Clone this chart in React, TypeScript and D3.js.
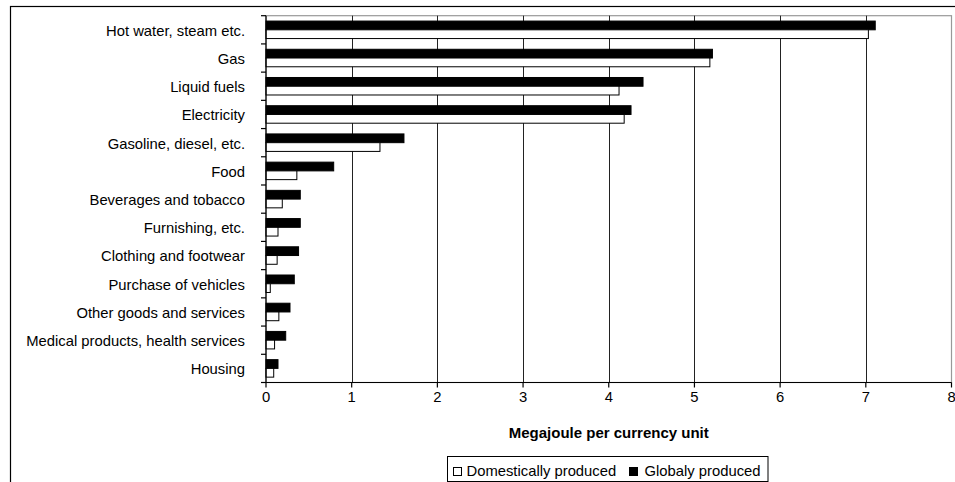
import React, { useEffect, useRef } from "react";
import * as d3 from "d3";

const categories = [
  "Hot water, steam etc.",
  "Gas",
  "Liquid fuels",
  "Electricity",
  "Gasoline, diesel, etc.",
  "Food",
  "Beverages and tobacco",
  "Furnishing, etc.",
  "Clothing and footwear",
  "Purchase of vehicles",
  "Other goods and services",
  "Medical products, health services",
  "Housing",
];
const globalValues = [7.11, 5.21, 4.4, 4.26, 1.61, 0.79, 0.4, 0.4, 0.38, 0.33, 0.28, 0.23, 0.14];
const domesticValues = [7.03, 5.18, 4.12, 4.18, 1.33, 0.36, 0.19, 0.14, 0.13, 0.05, 0.15, 0.1, 0.09];
const xTicks = [0, 1, 2, 3, 4, 5, 6, 7, 8];
const seriesNames = ["Domestically produced", "Globaly produced"];
const axisTitle = "Megajoule per currency unit";

const W = 955;
const H = 482;
const FONT = "Arial, 'Liberation Sans', sans-serif";

export default function App() {
  const ref = useRef<SVGSVGElement | null>(null);

  useEffect(() => {
    const svg = d3.select(ref.current);
    svg.selectAll("*").remove();

    const left = 266, right = 951.5, top = 15.7, bottom = 382.5;
    const x = d3.scaleLinear().domain([0, 8]).range([left, right]);
    const y = d3.scaleBand<string>().domain(categories).range([top, bottom]);
    const bw = y.bandwidth();
    const barH = bw * 0.31;
    const offset = (bw - 2 * barH) / 2;

    // outer frame
    svg.append("rect")
      .attr("x", 10.5).attr("y", 6.5)
      .attr("width", 980).attr("height", 500)
      .attr("fill", "white").attr("stroke", "#000").attr("stroke-width", 1.2);

    // plot border
    svg.append("rect")
      .attr("x", left).attr("y", top)
      .attr("width", right - left).attr("height", bottom - top)
      .attr("fill", "white").attr("stroke", "#999").attr("stroke-width", 1.2);

    // gridlines
    svg.append("g").selectAll("line")
      .data(xTicks.filter((t) => t > 0 && t < 8))
      .join("line")
      .attr("x1", (d) => Math.round(x(d)) + 0.5).attr("x2", (d) => Math.round(x(d)) + 0.5)
      .attr("y1", top).attr("y2", bottom)
      .attr("stroke", "#222").attr("stroke-width", 1);

    // bars
    const g = svg.append("g");
    categories.forEach((c, i) => {
      const y0 = (y(c) as number) + offset;
      g.append("rect")
        .attr("x", x(0)).attr("y", y0)
        .attr("width", x(globalValues[i]) - x(0)).attr("height", barH)
        .attr("fill", "#000").attr("stroke", "#000").attr("stroke-width", 1);
      g.append("rect")
        .attr("x", x(0)).attr("y", y0 + barH)
        .attr("width", x(domesticValues[i]) - x(0)).attr("height", barH)
        .attr("fill", "#fff").attr("stroke", "#000").attr("stroke-width", 1);
    });

    // y axis
    svg.append("line")
      .attr("x1", left).attr("x2", left).attr("y1", top).attr("y2", bottom + 0.5)
      .attr("stroke", "#000").attr("stroke-width", 1.2);
    const yBoundaries = categories.map((c) => y(c) as number).concat([bottom]);
    svg.append("g").selectAll("line")
      .data(yBoundaries)
      .join("line")
      .attr("x1", left - 5).attr("x2", left)
      .attr("y1", (d) => d).attr("y2", (d) => d)
      .attr("stroke", "#000").attr("stroke-width", 1.2);
    svg.append("g").selectAll("text")
      .data(categories)
      .join("text")
      .attr("x", 245)
      .attr("y", (d) => (y(d) as number) + bw / 2 + 2)
      .attr("text-anchor", "end")
      .attr("dominant-baseline", "middle")
      .attr("font-family", FONT).attr("font-size", 14.8).attr("fill", "#000")
      .text((d) => d);

    // x axis
    svg.append("line")
      .attr("x1", left - 5).attr("x2", right).attr("y1", bottom).attr("y2", bottom)
      .attr("stroke", "#000").attr("stroke-width", 1.2);
    svg.append("g").selectAll("line")
      .data(xTicks)
      .join("line")
      .attr("x1", (d) => x(d)).attr("x2", (d) => x(d))
      .attr("y1", bottom).attr("y2", bottom + 5)
      .attr("stroke", "#000").attr("stroke-width", 1.2);
    svg.append("g").selectAll("text")
      .data(xTicks)
      .join("text")
      .attr("x", (d) => x(d)).attr("y", 401.5)
      .attr("text-anchor", "middle")
      .attr("font-family", FONT).attr("font-size", 14.8).attr("fill", "#000")
      .text((d) => String(d));

    svg.append("text")
      .attr("x", (left + right) / 2).attr("y", 437.5)
      .attr("text-anchor", "middle")
      .attr("font-family", FONT).attr("font-size", 15).attr("font-weight", "bold")
      .attr("fill", "#000")
      .text(axisTitle);

    // legend
    const lg = svg.append("g");
    lg.append("rect")
      .attr("x", 447.5).attr("y", 456.5).attr("width", 320.5).attr("height", 25)
      .attr("fill", "#fff").attr("stroke", "#000").attr("stroke-width", 1);
    const items = [
      { name: seriesNames[0], fill: "#fff", sx: 453.5, tx: 466.5 },
      { name: seriesNames[1], fill: "#000", sx: 629.5, tx: 644.5 },
    ];
    items.forEach((it) => {
      lg.append("rect")
        .attr("x", it.sx).attr("y", 467.5).attr("width", 8).attr("height", 8)
        .attr("fill", it.fill).attr("stroke", "#000").attr("stroke-width", 1);
      lg.append("text")
        .attr("x", it.tx).attr("y", 476)
        .attr("font-family", FONT).attr("font-size", 14.8).attr("fill", "#000")
        .text(it.name);
    });
  }, []);

  return (
    <svg
      ref={ref}
      width={W}
      height={H}
      style={{ position: "absolute", left: 0, top: 0, display: "block", background: "#fff" }}
    />
  );
}
